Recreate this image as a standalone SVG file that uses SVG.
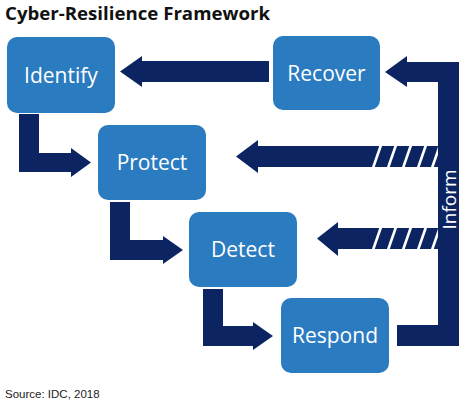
<svg xmlns="http://www.w3.org/2000/svg" width="469" height="403" viewBox="0 0 469 403">
<style>
.box{fill:#2a7bbf}
.lbl{font-family:"Open Sans","Noto Sans",sans-serif;font-size:21px;fill:#ffffff;text-anchor:middle}
.arr{fill:#0c2562}
.hatch{stroke:#ffffff;stroke-width:2.6}
</style>
<rect width="469" height="403" fill="#ffffff"/>
<text x="5" y="20" font-family="'Open Sans','Noto Sans',sans-serif" font-weight="bold" font-size="18" fill="#111111" textLength="265" lengthAdjust="spacingAndGlyphs">Cyber-Resilience Framework</text>
<g id="connectors">
<polygon class="arr" points="269,61 142,61 142,56 120,71.5 142,87 142,82 269,82"/>
<polygon class="arr" points="438,146 258,146 258,140 236,156.5 258,173 258,167 438,167"/>
<polygon class="arr" points="438,228 338,228 338,222 317,238.5 338,256 338,249 438,249"/>
<g class="hatch">
<line x1="373" y1="168" x2="381" y2="145"/>
<line x1="388" y1="168" x2="396" y2="145"/>
<line x1="403" y1="168" x2="411" y2="145"/>
<line x1="418" y1="168" x2="426" y2="145"/>
<line x1="432" y1="168" x2="440" y2="145"/>
<line x1="373" y1="250" x2="381" y2="227"/>
<line x1="388" y1="250" x2="396" y2="227"/>
<line x1="403" y1="250" x2="411" y2="227"/>
<line x1="418" y1="250" x2="426" y2="227"/>
<line x1="432" y1="250" x2="440" y2="227"/>
</g>
<path class="arr" d="M459,62 L459,346 L397,346 L397,325 L438,325 L438,82 L407,82 L407,87 L385,72 L407,56 L407,62 Z"/>
<polygon class="arr" points="19,114 39,114 39,153 71,153 71,148 91,162.5 71,177 71,172 19,172"/>
<polygon class="arr" points="110,202 130,202 130,240 163,240 163,236 183,250 163,264 163,260 110,260"/>
<polygon class="arr" points="203,289 223,289 223,326 253,326 253,322 273,336 253,350 253,346 203,346"/>
<text transform="translate(456,199.5) rotate(-90)" font-family="'Open Sans','Noto Sans',sans-serif" font-size="19" fill="#ffffff" text-anchor="middle">Inform</text>
</g>
<g id="identify"><rect class="box" x="7" y="37" width="108" height="76" rx="10"/><text class="lbl" x="61" y="82.5">Identify</text></g>
<g id="recover"><rect class="box" x="273" y="36" width="107" height="74" rx="10"/><text class="lbl" x="326.5" y="80.5">Recover</text></g>
<g id="protect"><rect class="box" x="98" y="125" width="108" height="75" rx="10"/><text class="lbl" x="152" y="170">Protect</text></g>
<g id="detect"><rect class="box" x="189" y="212" width="108" height="75" rx="10"/><text class="lbl" x="243" y="257">Detect</text></g>
<g id="respond"><rect class="box" x="281" y="298" width="108" height="75" rx="10"/><text class="lbl" x="335" y="343">Respond</text></g>
<text x="5" y="398" font-family="'Liberation Sans',Arial,sans-serif" font-size="11.5" fill="#222222">Source: IDC, 2018</text>
</svg>
